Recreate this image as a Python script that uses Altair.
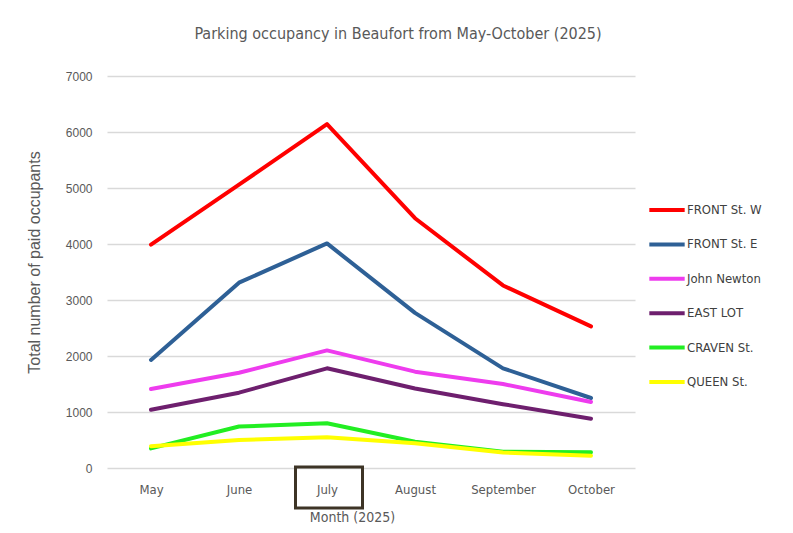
import altair as alt
import pandas as pd

months = ["May", "June", "July", "August", "September", "October"]
series_names = ["FRONT St. W", "FRONT St. E", "John Newton", "EAST LOT", "CRAVEN St.", "QUEEN St."]
front_w = [3990, 5060, 6140, 4460, 3260, 2530]
front_e = [1930, 3310, 4010, 2770, 1780, 1250]
john_newton = [1410, 1700, 2100, 1720, 1500, 1180]
east_lot = [1040, 1345, 1780, 1420, 1140, 880]
craven = [350, 740, 800, 470, 290, 280]
queen = [390, 500, 550, 440, 275, 220]
colors = ["#ff0000", "#2e6096", "#ee3cee", "#6e1f6e", "#22ee22", "#ffff00"]
highlight_month = ["July"]

all_vals = [front_w, front_e, john_newton, east_lot, craven, queen]
rows = []
for si, (name, vals) in enumerate(zip(series_names, all_vals)):
    for m, v in zip(months, vals):
        rows.append({"Month": m, "Lot": name, "Occupants": v, "order": si})
df = pd.DataFrame(rows)
hl = pd.DataFrame({"Month": highlight_month})

narrow = "DejaVu Sans Condensed, Roboto Condensed, Liberation Sans Narrow, Roboto, sans-serif"
regular = "Liberation Sans, Arial, sans-serif"

x_enc = alt.X(
    "Month:N",
    sort=months,
    scale=alt.Scale(type="point", padding=0.5),
    axis=alt.Axis(
        title="Month (2025)",
        labelAngle=0,
        grid=False,
        domain=False,
        ticks=False,
        labelPadding=15,
        labelFont=narrow,
        labelFontSize=13,
        labelColor="#595959",
        titleFont=narrow,
        titleFontSize=14,
        titleFontWeight="normal",
        titleColor="#595959",
        titleX=245,
        titleY=49,
        titleBaseline="middle",
    ),
)

lines = alt.Chart(df).mark_line(strokeWidth=4, strokeCap="round", strokeJoin="round").encode(
    x=x_enc,
    y=alt.Y(
        "Occupants:Q",
        scale=alt.Scale(domain=[0, 7000], nice=False),
        axis=alt.Axis(
            title="Total number of paid occupants",
            values=[0, 1000, 2000, 3000, 4000, 5000, 6000, 7000],
            format="d",
            domain=False,
            ticks=False,
            labelPadding=15,
            labelFont=regular,
            labelFontSize=12,
            labelColor="#595959",
            gridColor="#d9d9d9",
            gridWidth=1.5,
            titleFont=regular,
            titleFontSize=16,
            titleFontWeight="normal",
            titleColor="#595959",
            titleX=-65,
            titleY=186,
        ),
    ),
    color=alt.Color(
        "Lot:N",
        sort=series_names,
        scale=alt.Scale(domain=series_names, range=colors),
        legend=alt.Legend(
            title=None,
            orient="none",
            legendX=540,
            legendY=114,
            symbolType="stroke",
            symbolSize=1250,
            symbolStrokeWidth=4,
            labelFont=narrow,
            labelFontSize=13,
            labelColor="#404040",
            labelOffset=0,
            rowPadding=6.4,
        ),
    ),
    order=alt.Order("order:Q"),
)

box = alt.Chart(hl).mark_point(
    shape="M-1,-0.612L1,-0.612L1,0.612L-1,0.612Z",
    size=4489,
    filled=False,
    stroke="#3d3426",
    strokeWidth=3,
    opacity=1,
    xOffset=2,
).encode(
    x=alt.X("Month:N", sort=months, scale=alt.Scale(type="point", padding=0.5)),
    y=alt.value(411.5),
)

chart = (
    alt.layer(lines, box)
    .properties(
        width=528,
        height=392,
        title=alt.TitleParams(
            "Parking occupancy in Beaufort from May-October (2025)",
            font=narrow,
            fontSize=16,
            fontWeight="normal",
            color="#595959",
            anchor="middle",
            dx=27,
            offset=28,
        ),
        autosize=alt.AutoSizeParams(type="none"),
        padding={"left": 99, "top": 68, "right": 150, "bottom": 57},
        background="white",
    )
    .configure_view(stroke=None)
)

chart.save("out.html", embed_options={"renderer": "svg", "actions": False})
